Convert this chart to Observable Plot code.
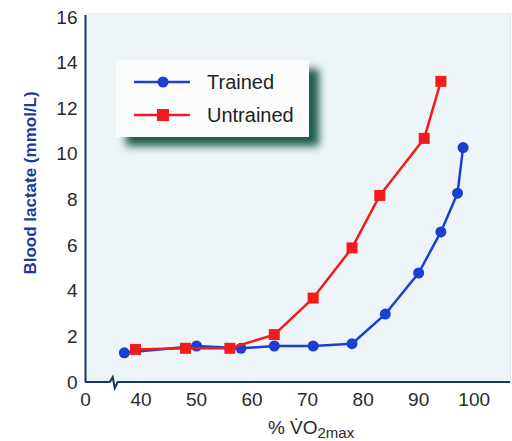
<!DOCTYPE html>
<html>
<head>
<meta charset="utf-8">
<script src="https://cdn.jsdelivr.net/npm/d3@7"></script>
<script src="https://cdn.jsdelivr.net/npm/@observablehq/plot@0.6"></script>
<style>
  html, body { margin: 0; padding: 0; background: #fff; }
  #wrap { position: relative; width: 512px; height: 441px; font-family: "Liberation Sans", Arial, sans-serif; }
  #legend { position: absolute; left: 116px; top: 60px; width: 193px; height: 77px; background: #fbfdfd;
            box-shadow: 10px 9px 8px rgba(5, 75, 55, 0.9); }
  .row { position: absolute; left: 0; height: 24px; display: flex; align-items: center; font-size: 20px; color: #222; }
  .row svg { margin-left: 18px; margin-right: 17px; }
</style>
</head>
<body>
<div id="wrap"></div>
<script>
// ---- data ----
const trainedX   = [37, 50, 58, 64, 71, 78, 84, 90, 94, 97, 98];
const trainedY   = [1.3, 1.6, 1.5, 1.6, 1.6, 1.7, 3.0, 4.8, 6.6, 8.3, 10.3];
const untrainedX = [39, 48, 56, 64, 71, 78, 83, 91, 94];
const untrainedY = [1.45, 1.5, 1.5, 2.1, 3.7, 5.9, 8.2, 10.7, 13.2];
const xTicks = [30, 40, 50, 60, 70, 80, 90, 100];   // 30 is shown as "0" (broken axis)
const yTicks = [0, 2, 4, 6, 8, 10, 12, 14, 16];
const seriesNames = ["Trained", "Untrained"];
const yLabel = "Blood lactate (mmol/L)";
const breakAt = 35;

const trained = trainedX.map((x, i) => ({x, y: trainedY[i]}));
const untrained = untrainedX.map((x, i) => ({x, y: untrainedY[i]}));

const BLUE = "#1c3fd0", RED = "#f21a1a", AXIS = "#1d3461", TXT = "#2a2a2a";

function xAxisLine(index, scales, values, dims) {
  const x0 = scales.x(30), x1 = dims.width - dims.marginRight + 3, y = scales.y(0);
  const b = scales.x(breakAt);
  const p = d3.create("svg:path")
    .attr("d", `M${x0},${y}H${b - 3}L${b},${y - 5}L${b + 2},${y + 6}L${b + 5},${y}H${x1}`)
    .attr("fill", "none").attr("stroke", AXIS).attr("stroke-width", 2);
  return p.node();
}

const chart = Plot.plot({
  width: 512, height: 441,
  marginLeft: 85, marginRight: 5, marginTop: 17, marginBottom: 59,
  style: {fontFamily: "'Liberation Sans', Arial, sans-serif", background: "transparent", color: TXT},
  x: {domain: [30, 106], ticks: xTicks, tickFormat: d => d === 30 ? "0" : String(d), label: null},
  y: {domain: [0, 16], ticks: yTicks, label: null},
  marks: [
    Plot.frame({fill: "#edf5f8", stroke: "#dcebf0", insetTop: -4, insetRight: -3}),
    Plot.axisX({ticks: xTicks, tickSize: 0, tickPadding: 10, fontSize: 19, fill: TXT, label: null,
                tickFormat: d => d === 30 ? "0" : String(d)}),
    Plot.axisY({ticks: yTicks, tickSize: 0, tickPadding: 8, fontSize: 19, fill: TXT, label: null}),
    Plot.ruleX([30], {stroke: AXIS, strokeWidth: 2, insetTop: -2}),
    xAxisLine,
    Plot.line(trained, {x: "x", y: "y", stroke: BLUE, strokeWidth: 2.5}),
    Plot.dot(trained, {x: "x", y: "y", r: 5.5, fill: BLUE, stroke: "none"}),
    Plot.line(untrained, {x: "x", y: "y", stroke: RED, strokeWidth: 2.5}),
    Plot.dot(untrained, {x: "x", y: "y", symbol: "square", r: 6.2, fill: RED, stroke: "none"}),
    Plot.text([yLabel], {frameAnchor: "left", textAnchor: "middle", dx: -55, dy: -17, rotate: -90, fontSize: 17, fontWeight: "bold", fill: "#1f3a9e"}),
    Plot.text(["% V\u0307O"], {frameAnchor: "bottom", textAnchor: "end", lineAnchor: "bottom", dx: 21, dy: 51, fontSize: 19, fill: TXT}),
    Plot.text(["2max"], {frameAnchor: "bottom", textAnchor: "start", lineAnchor: "bottom", dx: 21, dy: 55, fontSize: 15, fill: TXT})
  ]
});

const wrap = document.getElementById("wrap");
wrap.appendChild(chart);

// legend
const legend = document.createElement("div");
legend.id = "legend";
const swatch = (color, shape) => `<svg width="56" height="14" viewBox="0 0 56 14">
  <line x1="0" y1="7" x2="56" y2="7" stroke="${color}" stroke-width="2.5"/>
  ${shape === "circle" ? `<circle cx="29" cy="7" r="5.5" fill="${color}"/>` : `<rect x="23" y="1" width="12" height="12" fill="${color}"/>`}
</svg>`;
legend.innerHTML =
  `<div class="row" style="top:10px">${swatch(BLUE, "circle")}<span>${seriesNames[0]}</span></div>` +
  `<div class="row" style="top:43px">${swatch(RED, "square")}<span>${seriesNames[1]}</span></div>`;
wrap.appendChild(legend);
</script>
</body>
</html>
